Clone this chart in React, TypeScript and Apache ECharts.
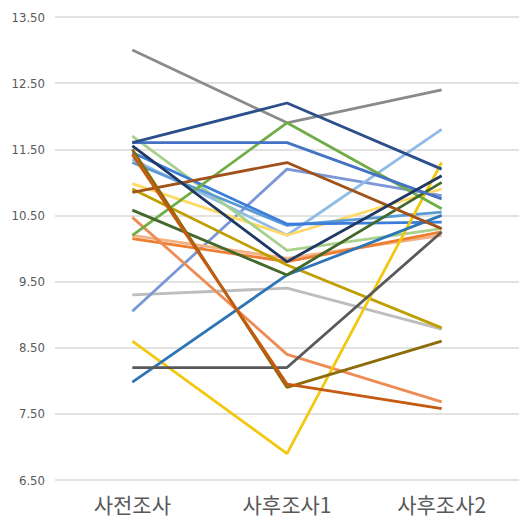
import React, { useEffect, useRef } from "react";
import * as echarts from "echarts";

const categories = ["사전조사", "사후조사1", "사후조사2"];
const yTicks = { min: 6.5, max: 13.5, interval: 1 };

const sA = [13.0, 11.9, 12.4];
const sB = [11.6, 12.2, 11.2];
const sC = [11.6, 11.6, 10.75];
const sD = [10.2, 11.9, 10.6];
const sE = [10.85, 11.3, 10.3];
const sF = [9.05, 11.2, 10.8];
const sG = [11.35, 10.2, 11.8];
const sH = [11.55, 9.8, 11.1];
const sI = [11.45, 10.37, 10.4];
const sJ = [10.58, 9.6, 11.0];
const sK = [10.2, 9.85, 10.2];
const sL = [10.15, 9.8, 10.25];
const sM = [9.3, 9.4, 8.78];
const sN = [10.9, 9.75, 8.8];
const sO = [8.6, 6.9, 11.3];
const sP = [8.2, 8.2, 10.25];
const sQ = [7.98, 9.6, 10.5];
const sR = [11.5, 7.9, 8.6];
const sS = [11.42, 7.95, 7.58];
const sT = [10.47, 8.4, 7.68];
const sU = [10.98, 10.2, 10.9];
const sV = [11.7, 9.97, 10.3];
const sW = [11.3, 10.35, 10.55];

const seriesData: [string, number[], string][] = [
  ["A", sA, "#8a8a8a"],
  ["M", sM, "#bdbdbd"],
  ["F", sF, "#7b97d6"],
  ["G", sG, "#8fbbe6"],
  ["U", sU, "#ffd966"],
  ["V", sV, "#a9d18e"],
  ["W", sW, "#5b9bd5"],
  ["I", sI, "#3b7dd8"],
  ["K", sK, "#f4b183"],
  ["L", sL, "#ed7d31"],
  ["T", sT, "#ee8c55"],
  ["N", sN, "#bf9f00"],
  ["O", sO, "#f2c811"],
  ["Q", sQ, "#2e75b6"],
  ["P", sP, "#595959"],
  ["D", sD, "#70ad47"],
  ["J", sJ, "#43682b"],
  ["E", sE, "#a0521a"],
  ["C", sC, "#4472c4"],
  ["H", sH, "#203864"],
  ["B", sB, "#2c4f8c"],
  ["R", sR, "#8b6b0a"],
  ["S", sS, "#c55a11"],
];

export default function App() {
  const ref = useRef<HTMLDivElement>(null);
  useEffect(() => {
    if (!ref.current) return;
    const chart = echarts.init(ref.current, undefined, { renderer: "svg" });
    chart.setOption({
      animation: false,
      backgroundColor: "#ffffff",
      grid: { left: 55, right: 9, top: 17, bottom: 47 },
      xAxis: {
        type: "category",
        data: categories,
        boundaryGap: true,
        axisLine: { show: false },
        axisTick: { show: false },
        axisLabel: {
          color: "#595959",
          fontSize: 21,
          margin: 13,
          fontFamily: "'Noto Sans CJK KR', sans-serif",
        },
      },
      yAxis: {
        type: "value",
        min: yTicks.min,
        max: yTicks.max,
        interval: yTicks.interval,
        axisLine: { show: false },
        axisTick: { show: false },
        splitLine: { lineStyle: { color: "#d9d9d9", width: 1.5 } },
        axisLabel: {
          color: "#595959",
          fontSize: 13,
          margin: 10,
          fontFamily: "'DejaVu Sans Condensed', 'Liberation Sans Narrow', sans-serif",
          formatter: (v: number) => v.toFixed(2),
        },
      },
      series: seriesData.map(([name, data, color]) => ({
        name,
        type: "line",
        data,
        symbol: "none",
        lineStyle: { color, width: 2.8 },
        itemStyle: { color },
      })),
    });
    return () => chart.dispose();
  }, []);
  return (
    <div
      ref={ref}
      style={{ position: "fixed", left: 0, top: 0, width: 528, height: 527 }}
    />
  );
}
